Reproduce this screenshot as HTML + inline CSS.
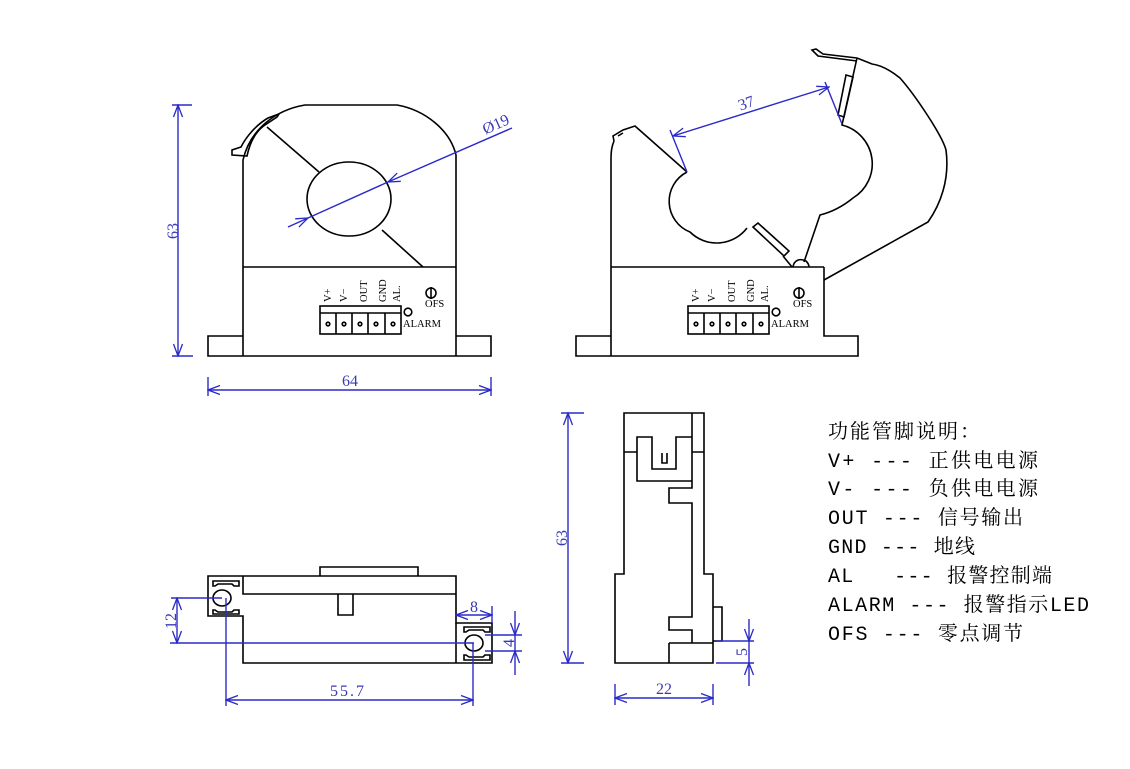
<!DOCTYPE html>
<html><head><meta charset="utf-8"><style>
html,body{margin:0;padding:0;background:#fff;}
svg{display:block;}
.k{fill:none;stroke:#000;stroke-width:1.6;stroke-linejoin:miter;}
.b{fill:none;stroke:#2a2ac8;stroke-width:1.4;}
.bt{fill:#3a3ab8;font-family:"Liberation Serif",serif;font-size:16px;}
.pt{fill:#000;font-family:"Liberation Serif",serif;font-size:10.5px;}
.lg{fill:#000;font-family:"Liberation Mono","Noto Serif CJK SC",monospace;font-size:20px;}
</style></head><body>
<svg width="1130" height="769" viewBox="0 0 1130 769" xmlns="http://www.w3.org/2000/svg">
<defs>
<marker id="a" markerUnits="userSpaceOnUse" viewBox="-13 -6 14 12" markerWidth="14" markerHeight="12" refX="0" refY="0" orient="auto-start-reverse">
<path d="M-12,-4.5 L0,0 L-12,4.5" fill="none" stroke="#2a2ac8" stroke-width="1.3"/>
</marker>
</defs>

<!-- ============ FRONT VIEW ============ -->
<path class="k" d="M243,356 L243,160 C250,130 275,110 305,105 L397,105 C425,110 450,130 456,155 L456,356"/>
<path class="k" d="M243,267 L456,267"/>
<path class="k" d="M243,336 L208,336 L208,356 L491,356 L491,336 L456,336"/>
<ellipse class="k" cx="349" cy="199" rx="42" ry="37"/>
<path class="k" d="M267,127 L319,172 M382,230 L423,267"/>
<path class="k" d="M247,156 C250,142 256,131 265,125 L277,117 L279,114 L268,118 C256,125 246,137 241,147 L232,150 L232,155 Z" fill="#fff"/>
<!-- panel -->
<g id="panel">
<rect class="k" x="320" y="306" width="81" height="28" stroke-width="1.4"/>
<path class="k" d="M320,313 L401,313 M336,313 L336,334 M352,313 L352,334 M368,313 L368,334 M385,313 L385,334" stroke-width="1.2"/>
<circle cx="328" cy="324" r="1.8" class="k" stroke-width="1"/>
<circle cx="344" cy="324" r="1.8" class="k" stroke-width="1"/>
<circle cx="360" cy="324" r="1.8" class="k" stroke-width="1"/>
<circle cx="376" cy="324" r="1.8" class="k" stroke-width="1"/>
<circle cx="393" cy="324" r="1.8" class="k" stroke-width="1"/>
<text class="pt" transform="translate(331,302) rotate(-90)">V+</text>
<text class="pt" transform="translate(347,302) rotate(-90)">V−</text>
<text class="pt" transform="translate(367,302) rotate(-90)">OUT</text>
<text class="pt" transform="translate(386,302) rotate(-90)">GND</text>
<text class="pt" transform="translate(400,302) rotate(-90)">AL.</text>
<circle cx="408" cy="312" r="3.8" class="k" stroke-width="1.1"/>
<text class="pt" x="403" y="327" font-size="10">ALARM</text>
<circle cx="431" cy="293" r="5" class="k" stroke-width="1.4"/>
<path class="k" d="M431,287 L431,299" stroke-width="1.6"/>
<text class="pt" x="425" y="307" font-size="9">OFS</text>
</g>
<!-- dims front -->
<path class="b" d="M172,105 L192,105 M172,356 L193,356"/>
<path class="b" d="M178,105 L178,356" marker-start="url(#a)" marker-end="url(#a)"/>
<text class="bt" transform="translate(178,231) rotate(-90)" text-anchor="middle">63</text>
<path class="b" d="M208,377 L208,396 M491,377 L491,396"/>
<path class="b" d="M208,390 L491,390" marker-start="url(#a)" marker-end="url(#a)"/>
<text class="bt" x="350" y="386" text-anchor="middle">64</text>
<path class="b" d="M288,227 L308,218" marker-end="url(#a)"/>
<path class="b" d="M308,218 L388,182"/>
<path class="b" d="M512,128 L388,182" marker-end="url(#a)"/>
<text class="bt" transform="translate(498,129) rotate(-24)" text-anchor="middle">Ø19</text>

<!-- ============ OPEN VIEW ============ -->
<path class="k" d="M611,356 L611,160 C611,150 612,146 614,141"/>
<path class="k" d="M611,267 L824,267"/>
<path class="k" d="M611,336 L576,336 L576,356 L858,356 L858,336 L824,336 L824,267"/>
<path class="k" d="M614,141 L613,136 L623,130 L635,126 L687,172"/>
<path class="k" d="M618,136 L623,133"/>
<!-- fixed jaw hole -->
<path class="k" d="M687,172 A33,33 0 0 0 690,232 A38,38 0 0 0 747,228"/>
<path class="k" d="M783,256 L792,267"/>
<path class="k" d="M753,227 L758,223 L789,251 L784,256 Z"/>
<!-- moving jaw -->
<path class="k" d="M824,280 L928,222 C940,205 950,180 946,150 C942,135 915,95 900,78 C890,70 880,65 872,64 L857,58"/>
<path class="k" d="M857,58 L842,125 A40,40 0 0 1 853,198 C842,207 832,212 820,215 L804,262"/>
<path class="k" d="M857,58 L823,54 L816,49 L812,50 L818,56 L857,61" stroke-width="1.4"/>
<path class="k" d="M846,75 L853,77 L844,117 L838,115 Z"/>
<path class="k" d="M793,267 C794,260 800,258 806,261 C808,263 809,265 809,267"/>
<use href="#panel" transform="translate(368,0)"/>
<!-- dim 37 -->
<path class="b" d="M670,130 L687,172 M825,82 L842,124" stroke-width="2"/>
<path class="b" d="M673,136 L829,87" marker-start="url(#a)" marker-end="url(#a)" stroke-width="1.8"/>
<text class="bt" transform="translate(748,108) rotate(-20)" text-anchor="middle">37</text>

<!-- ============ BOTTOM VIEW ============ -->
<path class="k" d="M208,576 L456,576 L456,623 L492,623 L492,663 L243,663 L243,616 L208,616 Z"/>
<path class="k" d="M243,576 L243,594 L456,594"/>
<path class="k" d="M338,594 L338,615 L353,615 L353,594"/>
<path class="k" d="M320,576 L320,567 L418,567 L418,576"/>
<path class="k" d="M456,623 L456,663" stroke-width="1"/>
<!-- left slot -->
<ellipse class="k" cx="222" cy="598" rx="9" ry="8"/>
<path class="k" d="M213,586 L213,581 L239,581 L239,586 L234,586 L232,584 L218,584 L215,586 Z" stroke-width="1.2"/>
<path class="k" d="M213,610 L213,614 L239,614 L239,610 L234,610 L232,612 L218,612 L215,610 Z" stroke-width="1.2"/>
<!-- right slot -->
<ellipse class="k" cx="474" cy="643" rx="9" ry="8"/>
<path class="k" d="M464,632 L464,627 L490,627 L490,632 L485,632 L483,630 L469,630 L466,632 Z" stroke-width="1.2"/>
<path class="k" d="M464,655 L464,660 L490,660 L490,655 L485,655 L483,657 L469,657 L466,655 Z" stroke-width="1.2"/>
<!-- dims -->
<path class="b" d="M171,598 L222,598 M170,643 L474,643"/>
<path class="b" d="M177,598 L177,643" marker-start="url(#a)" marker-end="url(#a)"/>
<text class="bt" transform="translate(176,621) rotate(-90)" text-anchor="middle">12</text>
<path class="b" d="M226,598 L226,706 M473,643 L473,706"/>
<path class="b" d="M226,700 L473,700" marker-start="url(#a)" marker-end="url(#a)"/>
<text class="bt" x="348" y="696" text-anchor="middle" letter-spacing="2">55.7</text>
<path class="b" d="M492,606 L492,623"/>
<path class="b" d="M456,615 L492,615" marker-start="url(#a)" marker-end="url(#a)"/>
<text class="bt" x="474" y="612" text-anchor="middle">8</text>
<path class="b" d="M485,635 L522,635 M485,651 L522,651"/>
<path class="b" d="M515,611 L515,635" marker-end="url(#a)"/>
<path class="b" d="M515,675 L515,651" marker-end="url(#a)"/>
<path class="b" d="M515,635 L515,651"/>
<text class="bt" transform="translate(514,643) rotate(-90)" text-anchor="middle">4</text>

<!-- ============ SIDE VIEW ============ -->
<path class="k" d="M624,413 L704,413 L704,574 L713,574 L713,663 L615,663 L615,574 L624,574 Z"/>
<path class="k" d="M692,413 L692,488 L669,488 L669,503 L692,503 L692,617 L669,617 L669,630 L692,630 L692,643"/>
<path class="k" d="M669,643 L713,643 M669,643 L669,663"/>
<path class="k" d="M624,452 L637,452 M692,452 L704,452"/>
<path class="k" d="M692,437 L676,437 L676,469 L652,469 L652,437 L637,437 L637,481 L692,481"/>
<path class="k" d="M662,453 L662,463 L667,463 L667,453" stroke-width="1.2"/>
<path class="k" d="M713,607 L722,607 L722,641 L713,641"/>
<!-- dims -->
<path class="b" d="M561,413 L584,413 M561,663 L584,663"/>
<path class="b" d="M568,413 L568,663" marker-start="url(#a)" marker-end="url(#a)"/>
<text class="bt" transform="translate(567,538) rotate(-90)" text-anchor="middle">63</text>
<path class="b" d="M716,641 L754,641 M716,663 L754,663"/>
<path class="b" d="M749,619 L749,641" marker-end="url(#a)"/>
<path class="b" d="M749,686 L749,663" marker-end="url(#a)"/>
<path class="b" d="M749,641 L749,663"/>
<text class="bt" transform="translate(747,652) rotate(-90)" text-anchor="middle">5</text>
<path class="b" d="M615,684 L615,705 M713,684 L713,705"/>
<path class="b" d="M615,698 L713,698" marker-start="url(#a)" marker-end="url(#a)"/>
<text class="bt" x="664" y="694" text-anchor="middle">22</text>

<!-- ============ LEGEND ============ -->
<text class="lg" x="828" y="438" textLength="152" lengthAdjust="spacing">功能管脚说明：</text>
<text class="lg" x="828" y="467" textLength="210" lengthAdjust="spacing">V+ --- 正供电电源</text>
<text class="lg" x="828" y="495" textLength="210" lengthAdjust="spacing">V- --- 负供电电源</text>
<text class="lg" x="828" y="524" textLength="195" lengthAdjust="spacing">OUT --- 信号输出</text>
<text class="lg" x="828" y="553" textLength="147" lengthAdjust="spacing">GND --- 地线</text>
<text class="lg" x="828" y="582" textLength="224" lengthAdjust="spacing" xml:space="preserve">AL   --- 报警控制端</text>
<text class="lg" x="828" y="611" textLength="261" lengthAdjust="spacing">ALARM --- 报警指示LED</text>
<text class="lg" x="828" y="640" textLength="195" lengthAdjust="spacing">OFS --- 零点调节</text>
</svg>
</body></html>
